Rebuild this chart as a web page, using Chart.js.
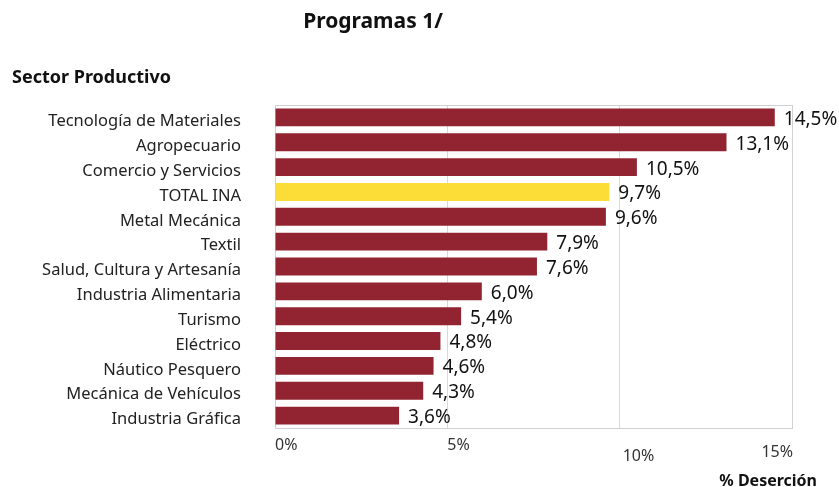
<!DOCTYPE html>
<html>
<head>
<meta charset="utf-8">
<script src="https://cdn.jsdelivr.net/npm/chart.js@4/dist/chart.umd.min.js"></script>
<style>
  html, body { margin: 0; padding: 0; background: #fff; }
  #wrap { width: 839px; height: 487px; position: relative; }
</style>
</head>
<body>
<div id="wrap"><canvas id="myChart"></canvas></div>
<script>
// data
const sectors = [
    'Tecnología de Materiales', 'Agropecuario', 'Comercio y Servicios', 'TOTAL INA',
    'Metal Mecánica', 'Textil', 'Salud, Cultura y Artesanía', 'Industria Alimentaria',
    'Turismo', 'Eléctrico', 'Náutico Pesquero', 'Mecánica de Vehículos', 'Industria Gráfica'
];
const desercion = [14.5, 13.1, 10.5, 9.7, 9.6, 7.9, 7.6, 6.0, 5.4, 4.8, 4.6, 4.3, 3.6];
const xTicks = [0, 5, 10, 15];

const FONT = '"Noto Sans", "Open Sans", sans-serif';
const RED = 'rgb(146, 36, 49)';
const YELLOW = 'rgb(252, 221, 56)';

const fmt = (v) => v.toFixed(1).replace('.', ',') + '%';

// titles, plot frame, value labels and the staggered x tick labels
const extras = {
    id: 'extras',
    beforeDatasetsDraw(chart) {
        const ctx = chart.ctx, a = chart.chartArea;
        ctx.save();
        ctx.strokeStyle = '#d0d0d0';
        ctx.lineWidth = 1;
        ctx.strokeRect(Math.round(a.left) + 0.5, Math.round(a.top) + 0.5,
                       Math.round(a.right - a.left), Math.round(a.bottom - a.top));
        ctx.restore();
    },
    afterDatasetsDraw(chart) {
        const ctx = chart.ctx;
        const meta = chart.getDatasetMeta(0);
        ctx.save();
        ctx.fillStyle = '#111';
        ctx.font = '19px ' + FONT;
        ctx.textAlign = 'left';
        ctx.textBaseline = 'middle';
        meta.data.forEach((bar, i) => {
            ctx.fillText(fmt(desercion[i]), bar.x + 9, bar.y + 2);
        });

        // x tick labels (offsets copy the odd placement of the original)
        const xs = chart.scales.x;
        const offs = [[0, 445, 'left'], [0, 445, 'left'], [3, 456, 'left'], [1, 452, 'right']];
        ctx.font = '16px ' + FONT;
        ctx.fillStyle = '#333';
        xTicks.forEach((t, i) => {
            ctx.textAlign = offs[i][2];
            ctx.fillText(t + '%', xs.getPixelForValue(t) + offs[i][0], offs[i][1]);
        });

        ctx.fillStyle = '#111';
        ctx.font = 'bold 21px ' + FONT;
        ctx.textAlign = 'center';
        ctx.fillText('Programas 1/', 373, 22);
        ctx.font = 'bold 18px ' + FONT;
        ctx.textAlign = 'left';
        ctx.fillText('Sector Productivo', 12, 78);
        ctx.font = 'bold 16px ' + FONT;
        ctx.textAlign = 'right';
        ctx.fillText('% Deserción', 817, 481);
        ctx.restore();
    }
};

const config = {
    type: 'bar',
    data: {
        labels: sectors,
        datasets: [{
            data: desercion,
            backgroundColor: sectors.map(s => s === 'TOTAL INA' ? YELLOW : RED),
            categoryPercentage: 1.0,
            barPercentage: 0.72
        }]
    },
    options: {
        indexAxis: 'y',
        responsive: true,
        maintainAspectRatio: false,
        animation: false,
        layout: { padding: { top: 105, right: 47, bottom: 59, left: 0 } },
        plugins: {
            legend: { display: false },
            tooltip: { enabled: false }
        },
        scales: {
            x: {
                min: 0,
                max: 15,
                ticks: { display: false, stepSize: 5 },
                grid: { color: '#d9d9d9', drawTicks: false },
                border: { display: false }
            },
            y: {
                afterFit: (scale) => { scale.width = 275; },
                ticks: { color: '#222', font: { family: FONT, size: 16.5 }, padding: 34, labelOffset: 4 },
                grid: { display: false, drawTicks: false },
                border: { display: false }
            }
        }
    },
    plugins: [extras]
};

new Chart(document.getElementById('myChart').getContext('2d'), config);
</script>
</body>
</html>
